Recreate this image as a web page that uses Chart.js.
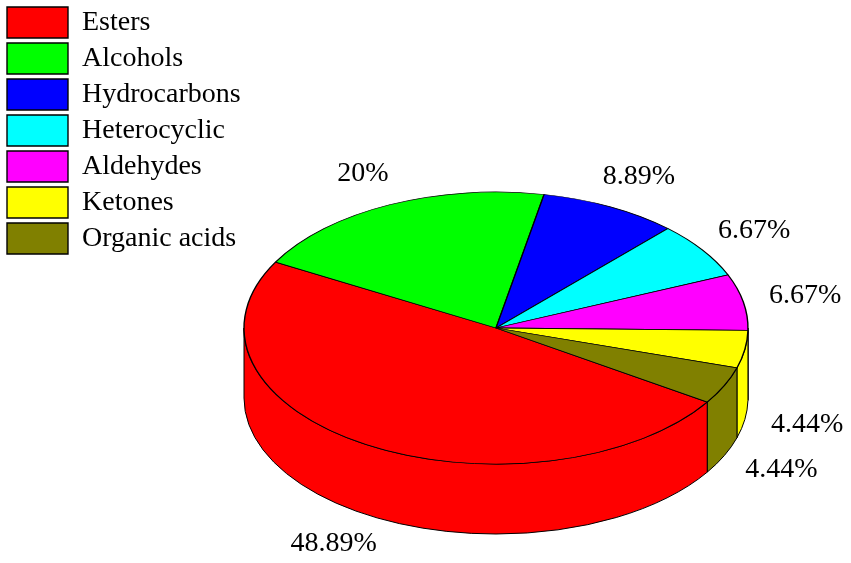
<!DOCTYPE html>
<html>
<head>
<meta charset="utf-8">
<script src="https://cdn.jsdelivr.net/npm/chart.js@4"></script>
<style>
html, body { margin: 0; padding: 0; background: #fff; }
#wrap { width: 851px; height: 563px; }
</style>
</head>
<body>
<div id="wrap"><canvas id="pieChart"></canvas></div>
<script>
// 資料
const categories = ['Esters', 'Alcohols', 'Hydrocarbons', 'Heterocyclic', 'Aldehydes', 'Ketones', 'Organic acids'];
const shares = [48.89, 20, 8.89, 6.67, 6.67, 4.44, 4.44];
const sliceColors = ['#ff0000', '#00ff00', '#0000ff', '#00ffff', '#ff00ff', '#ffff00', '#808000'];

// 3D 外觀：上表面橢圓與厚度
const TOP = { x: 496, y: 328, rx: 252, ry: 136 };
const DEPTH = 70;
const LABEL_SCALE = 1.25;

const pie3d = {
    id: 'pie3d',
    beforeDatasetsDraw(chart) {
        const ctx = chart.ctx;
        const arcs = chart.getDatasetMeta(0).data;
        // 側面
        ctx.save();
        ctx.strokeStyle = '#000';
        ctx.lineWidth = 1;
        arcs.forEach((arc, i) => {
            for (let k = -2; k <= 2; k++) {
                const lo = Math.max(arc.startAngle, k * 2 * Math.PI);
                const hi = Math.min(arc.endAngle, k * 2 * Math.PI + Math.PI);
                if (hi <= lo) continue;
                ctx.beginPath();
                ctx.ellipse(TOP.x, TOP.y, TOP.rx, TOP.ry, 0, lo, hi);
                ctx.ellipse(TOP.x, TOP.y + DEPTH, TOP.rx, TOP.ry, 0, hi, lo, true);
                ctx.closePath();
                ctx.fillStyle = sliceColors[i];
                ctx.fill();
                ctx.stroke();
            }
        });
        ctx.restore();
        // 上表面壓扁成橢圓
        const a = arcs[0];
        const r = a.outerRadius;
        ctx.save();
        ctx.translate(TOP.x, TOP.y);
        ctx.scale(TOP.rx / r, TOP.ry / r);
        ctx.translate(-a.x, -a.y);
    },
    afterDatasetsDraw(chart) {
        const ctx = chart.ctx;
        ctx.restore();
        const arcs = chart.getDatasetMeta(0).data;
        // 百分比標籤
        ctx.save();
        ctx.fillStyle = '#000';
        ctx.font = '28px "Liberation Serif"';
        ctx.textAlign = 'center';
        ctx.textBaseline = 'middle';
        arcs.forEach((arc, i) => {
            const mid = (arc.startAngle + arc.endAngle) / 2;
            const s = Math.sin(mid);
            const x = TOP.x + TOP.rx * LABEL_SCALE * Math.cos(mid);
            const y = TOP.y + TOP.ry * LABEL_SCALE * s + (s > 0 ? DEPTH : 0);
            ctx.fillText(shares[i] + '%', x, y);
        });
        ctx.restore();
    }
};

new Chart(document.getElementById('pieChart'), {
    type: 'pie',
    data: {
        labels: categories,
        datasets: [{
            data: shares,
            backgroundColor: sliceColors,
            borderColor: '#000',
            borderWidth: 1.4,
            clip: false
        }]
    },
    plugins: [pie3d],
    options: {
        responsive: true,
        maintainAspectRatio: false,
        animation: false,
        rotation: 123,
        layout: { padding: { top: 2, bottom: 56, left: 2 } },
        plugins: {
            legend: {
                position: 'left',
                align: 'start',
                labels: {
                    boxWidth: 61,
                    boxHeight: 31,
                    padding: 5,
                    color: '#000',
                    font: { family: 'Liberation Serif', size: 28 }
                }
            },
            tooltip: { enabled: false }
        }
    }
});
</script>
</body>
</html>
